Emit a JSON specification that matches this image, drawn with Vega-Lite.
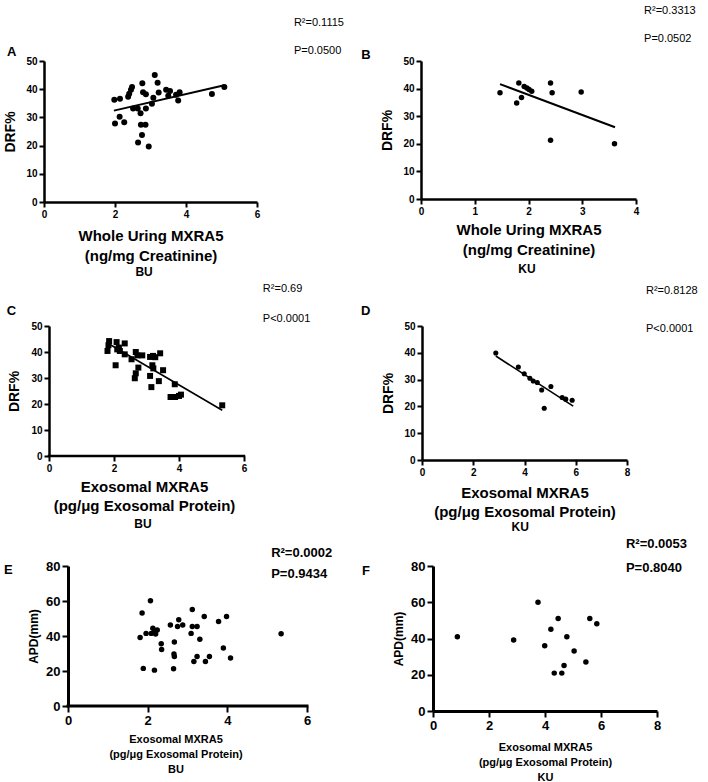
{
  "$schema": "https://vega.github.io/schema/vega-lite/v6.json",
  "padding": {"left": 3, "top": 5, "right": 0, "bottom": 0},
  "columns": 2,
  "align": {"row": "each", "column": "none"},
  "spacing": {"row": 5, "column": 17},
  "config": {
    "view": {"stroke": null},
    "font": "Liberation Sans",
    "axis": {"domainColor": "black", "domainWidth": 2.5, "tickColor": "black", "tickWidth": 2, "tickSize": 5, "labelColor": "black", "labelFontWeight": "bold", "titleColor": "black", "titleFontWeight": "bold", "grid": false, "labelPadding": 2, "labelFlush": false, "labelOverlap": false, "format": "d"},
    "text": {"color": "black", "align": "left", "baseline": "middle"}
  },
  "concat": [
    {
      "width": 213, "height": 141,
      "layer": [
        {"data": {"values": [
          {"x":1.98,"y":36.3},{"x":2.14,"y":36.6},{"x":2.0,"y":27.8},{"x":2.13,"y":30.2},{"x":2.26,"y":28.3},{"x":2.37,"y":37.3},{"x":2.40,"y":38.4},{"x":2.45,"y":39.8},{"x":2.48,"y":40.8},{"x":2.51,"y":33.2},{"x":2.64,"y":33.2},{"x":2.65,"y":21.1},{"x":2.72,"y":31.5},{"x":2.73,"y":27.4},{"x":2.76,"y":23.8},{"x":2.77,"y":42.1},{"x":2.79,"y":38.9},{"x":2.86,"y":27.4},{"x":2.87,"y":38.2},{"x":2.87,"y":33.2},{"x":2.95,"y":19.7},{"x":3.04,"y":34.8},{"x":3.08,"y":37.0},{"x":3.12,"y":45.0},{"x":3.20,"y":42.3},{"x":3.23,"y":38.8},{"x":3.44,"y":39.8},{"x":3.50,"y":37.7},{"x":3.55,"y":39.4},{"x":3.72,"y":38.0},{"x":3.78,"y":36.0},{"x":3.82,"y":38.9},{"x":4.73,"y":38.3},{"x":5.08,"y":40.8}
        ]},
         "mark": {"type": "circle", "size": 36, "color": "black", "opacity": 1},
         "encoding": {
           "x": {"field": "x", "type": "quantitative", "scale": {"domain": [0, 6], "nice": false}, "axis": {"values": [0,2,4,6], "title": ["Whole Uring MXRA5", "(ng/mg Creatinine)"], "titleFontSize": 15, "titleLineHeight": 20, "titlePadding": 9, "labelFontSize": 10}},
           "y": {"field": "y", "type": "quantitative", "scale": {"domain": [0, 50], "nice": false}, "axis": {"values": [0,10,20,30,40,50], "title": "DRF%", "titleFontSize": 14, "titlePadding": 8, "labelFontSize": 10}}
         }},
        {"data": {"values": [{"x":1.97,"y":32.4},{"x":5.08,"y":41.4}]},
         "mark": {"type": "line", "color": "black", "strokeWidth": 2},
         "encoding": {
           "x": {"field": "x", "type": "quantitative", "scale": {"domain": [0, 6], "nice": false}, "axis": {"values": [0,2,4,6], "title": ["Whole Uring MXRA5", "(ng/mg Creatinine)"], "titleFontSize": 15, "titleLineHeight": 20, "titlePadding": 9, "labelFontSize": 10}},
           "y": {"field": "y", "type": "quantitative", "scale": {"domain": [0, 50], "nice": false}, "axis": {"values": [0,10,20,30,40,50], "title": "DRF%", "titleFontSize": 14, "titlePadding": 8, "labelFontSize": 10}}
         }},
        {"data": {"values": [{}]},
         "mark": {"type": "text", "fontSize": 11, "lineHeight": 28, "text": ["R²=0.1115", "P=0.0500"]},
         "encoding": {
           "x": {"datum": 7.04, "type": "quantitative", "scale": {"domain": [0, 6], "nice": false}, "axis": {"values": [0,2,4,6], "title": ["Whole Uring MXRA5", "(ng/mg Creatinine)"], "titleFontSize": 15, "titleLineHeight": 20, "titlePadding": 9, "labelFontSize": 10}},
           "y": {"datum": 63.3, "type": "quantitative", "scale": {"domain": [0, 50], "nice": false}, "axis": {"values": [0,10,20,30,40,50], "title": "DRF%", "titleFontSize": 14, "titlePadding": 8, "labelFontSize": 10}}
         }},
        {"data": {"values": [{}]},
         "mark": {"type": "text", "fontSize": 13, "fontWeight": "bold", "text": "A"},
         "encoding": {
           "x": {"datum": -1.04, "type": "quantitative", "scale": {"domain": [0, 6], "nice": false}, "axis": {"values": [0,2,4,6], "title": ["Whole Uring MXRA5", "(ng/mg Creatinine)"], "titleFontSize": 15, "titleLineHeight": 20, "titlePadding": 9, "labelFontSize": 10}},
           "y": {"datum": 53.2, "type": "quantitative", "scale": {"domain": [0, 50], "nice": false}, "axis": {"values": [0,10,20,30,40,50], "title": "DRF%", "titleFontSize": 14, "titlePadding": 8, "labelFontSize": 10}}
         }},
        {"data": {"values": [{}]},
         "mark": {"type": "text", "fontSize": 12, "fontWeight": "bold", "text": "BU", "align": "center"},
         "encoding": {
           "x": {"datum": 2.82, "type": "quantitative", "scale": {"domain": [0, 6], "nice": false}, "axis": {"values": [0,2,4,6], "title": ["Whole Uring MXRA5", "(ng/mg Creatinine)"], "titleFontSize": 15, "titleLineHeight": 20, "titlePadding": 9, "labelFontSize": 10}},
           "y": {"datum": -24.8, "type": "quantitative", "scale": {"domain": [0, 50], "nice": false}, "axis": {"values": [0,10,20,30,40,50], "title": "DRF%", "titleFontSize": 14, "titlePadding": 8, "labelFontSize": 10}}
         }}
      ]
    },
    {
      "width": 215, "height": 138,
      "layer": [
        {"data": {"values": [
          {"x":1.47,"y":38.5},{"x":1.82,"y":42.0},{"x":1.92,"y":40.8},{"x":1.97,"y":40.2},{"x":2.01,"y":39.7},{"x":2.06,"y":39.0},{"x":1.87,"y":36.8},{"x":1.78,"y":34.8},{"x":2.41,"y":42.0},{"x":2.44,"y":38.5},{"x":2.98,"y":38.8},{"x":2.41,"y":21.3},{"x":3.60,"y":20.0}
        ]},
         "mark": {"type": "circle", "size": 30, "color": "black", "opacity": 1},
         "encoding": {
           "x": {"field": "x", "type": "quantitative", "scale": {"domain": [0, 4], "nice": false}, "axis": {"values": [0,1,2,3,4], "title": ["Whole Uring MXRA5", "(ng/mg Creatinine)"], "titleFontSize": 15, "titleLineHeight": 20, "titlePadding": 6, "labelFontSize": 10}},
           "y": {"field": "y", "type": "quantitative", "scale": {"domain": [0, 50], "nice": false}, "axis": {"values": [0,10,20,30,40,50], "title": "DRF%", "titleFontSize": 14, "titlePadding": 8, "labelFontSize": 10}}
         }},
        {"data": {"values": [{"x":1.47,"y":41.6},{"x":3.61,"y":26.0}]},
         "mark": {"type": "line", "color": "black", "strokeWidth": 2},
         "encoding": {
           "x": {"field": "x", "type": "quantitative", "scale": {"domain": [0, 4], "nice": false}, "axis": {"values": [0,1,2,3,4], "title": ["Whole Uring MXRA5", "(ng/mg Creatinine)"], "titleFontSize": 15, "titleLineHeight": 20, "titlePadding": 6, "labelFontSize": 10}},
           "y": {"field": "y", "type": "quantitative", "scale": {"domain": [0, 50], "nice": false}, "axis": {"values": [0,10,20,30,40,50], "title": "DRF%", "titleFontSize": 14, "titlePadding": 8, "labelFontSize": 10}}
         }},
        {"data": {"values": [{}]},
         "mark": {"type": "text", "fontSize": 11, "lineHeight": 28, "text": ["R²=0.3313", "P=0.0502"]},
         "encoding": {
           "x": {"datum": 4.15, "type": "quantitative", "scale": {"domain": [0, 4], "nice": false}, "axis": {"values": [0,1,2,3,4], "title": ["Whole Uring MXRA5", "(ng/mg Creatinine)"], "titleFontSize": 15, "titleLineHeight": 20, "titlePadding": 6, "labelFontSize": 10}},
           "y": {"datum": 68.1, "type": "quantitative", "scale": {"domain": [0, 50], "nice": false}, "axis": {"values": [0,10,20,30,40,50], "title": "DRF%", "titleFontSize": 14, "titlePadding": 8, "labelFontSize": 10}}
         }},
        {"data": {"values": [{}]},
         "mark": {"type": "text", "fontSize": 13, "fontWeight": "bold", "text": "B"},
         "encoding": {
           "x": {"datum": -1.11, "type": "quantitative", "scale": {"domain": [0, 4], "nice": false}, "axis": {"values": [0,1,2,3,4], "title": ["Whole Uring MXRA5", "(ng/mg Creatinine)"], "titleFontSize": 15, "titleLineHeight": 20, "titlePadding": 6, "labelFontSize": 10}},
           "y": {"datum": 52.2, "type": "quantitative", "scale": {"domain": [0, 50], "nice": false}, "axis": {"values": [0,10,20,30,40,50], "title": "DRF%", "titleFontSize": 14, "titlePadding": 8, "labelFontSize": 10}}
         }},
        {"data": {"values": [{}]},
         "mark": {"type": "text", "fontSize": 12, "fontWeight": "bold", "text": "KU", "align": "center"},
         "encoding": {
           "x": {"datum": 1.97, "type": "quantitative", "scale": {"domain": [0, 4], "nice": false}, "axis": {"values": [0,1,2,3,4], "title": ["Whole Uring MXRA5", "(ng/mg Creatinine)"], "titleFontSize": 15, "titleLineHeight": 20, "titlePadding": 6, "labelFontSize": 10}},
           "y": {"datum": -25.4, "type": "quantitative", "scale": {"domain": [0, 50], "nice": false}, "axis": {"values": [0,10,20,30,40,50], "title": "DRF%", "titleFontSize": 14, "titlePadding": 8, "labelFontSize": 10}}
         }}
      ]
    },
    {
      "width": 200, "height": 130,
      "layer": [
        {"data": {"values": [
          {"x":1.85,"y":44.2},{"x":1.83,"y":42.6},{"x":2.08,"y":43.8},{"x":2.33,"y":43.3},{"x":2.15,"y":41.7},{"x":1.80,"y":40.4},{"x":2.10,"y":41.0},{"x":2.18,"y":40.4},{"x":2.33,"y":39.1},{"x":2.05,"y":34.9},{"x":2.54,"y":37.2},{"x":2.67,"y":40.0},{"x":2.72,"y":38.7},{"x":2.87,"y":38.7},{"x":2.75,"y":34.0},{"x":2.67,"y":31.8},{"x":2.64,"y":29.9},{"x":3.11,"y":38.1},{"x":3.20,"y":38.5},{"x":3.27,"y":38.0},{"x":3.42,"y":39.5},{"x":3.18,"y":34.9},{"x":3.21,"y":33.7},{"x":3.11,"y":30.8},{"x":3.51,"y":33.0},{"x":3.38,"y":28.8},{"x":3.15,"y":26.5},{"x":3.87,"y":27.6},{"x":3.74,"y":22.7},{"x":3.88,"y":22.7},{"x":4.00,"y":23.1},{"x":4.06,"y":23.6},{"x":5.33,"y":19.5}
        ]},
         "mark": {"type": "square", "size": 36, "color": "black", "opacity": 1},
         "encoding": {
           "x": {"field": "x", "type": "quantitative", "scale": {"domain": [-0.1538, 6], "nice": false}, "axis": {"values": [0,2,4,6], "domain": false, "title": ["Exosomal MXRA5", "(pg/μg Exosomal Protein)"], "titleFontSize": 15, "titleLineHeight": 19, "titlePadding": 6, "labelFontSize": 10}},
           "y": {"field": "y", "type": "quantitative", "scale": {"domain": [0, 50], "nice": false}, "axis": {"values": [0,10,20,30,40,50], "offset": -5, "title": "DRF%", "titleFontSize": 14, "titlePadding": 9, "labelFontSize": 10}}
         }},
        {"data": {"values": [{}]},
         "mark": {"type": "rule", "color": "black", "strokeWidth": 2.5, "strokeCap": "square"},
         "encoding": {
           "x": {"datum": 0, "type": "quantitative", "scale": {"domain": [-0.1538, 6], "nice": false}, "axis": {"values": [0,2,4,6], "domain": false, "title": ["Exosomal MXRA5", "(pg/μg Exosomal Protein)"], "titleFontSize": 15, "titleLineHeight": 19, "titlePadding": 6, "labelFontSize": 10}},
           "x2": {"datum": 6},
           "y": {"datum": 0, "type": "quantitative", "scale": {"domain": [0, 50], "nice": false}, "axis": {"values": [0,10,20,30,40,50], "offset": -5, "title": "DRF%", "titleFontSize": 14, "titlePadding": 9, "labelFontSize": 10}}
         }},
        {"data": {"values": [{"x":1.85,"y":43.1},{"x":5.33,"y":17.6}]},
         "mark": {"type": "line", "color": "black", "strokeWidth": 1.6},
         "encoding": {
           "x": {"field": "x", "type": "quantitative", "scale": {"domain": [-0.1538, 6], "nice": false}, "axis": {"values": [0,2,4,6], "domain": false, "title": ["Exosomal MXRA5", "(pg/μg Exosomal Protein)"], "titleFontSize": 15, "titleLineHeight": 19, "titlePadding": 6, "labelFontSize": 10}},
           "y": {"field": "y", "type": "quantitative", "scale": {"domain": [0, 50], "nice": false}, "axis": {"values": [0,10,20,30,40,50], "offset": -5, "title": "DRF%", "titleFontSize": 14, "titlePadding": 9, "labelFontSize": 10}}
         }},
        {"data": {"values": [{}]},
         "mark": {"type": "text", "fontSize": 11, "lineHeight": 30, "text": ["R²=0.69", "P<0.0001"]},
         "encoding": {
           "x": {"datum": 6.58, "type": "quantitative", "scale": {"domain": [-0.1538, 6], "nice": false}, "axis": {"values": [0,2,4,6], "domain": false, "title": ["Exosomal MXRA5", "(pg/μg Exosomal Protein)"], "titleFontSize": 15, "titleLineHeight": 19, "titlePadding": 6, "labelFontSize": 10}},
           "y": {"datum": 64.2, "type": "quantitative", "scale": {"domain": [0, 50], "nice": false}, "axis": {"values": [0,10,20,30,40,50], "offset": -5, "title": "DRF%", "titleFontSize": 14, "titlePadding": 9, "labelFontSize": 10}}
         }},
        {"data": {"values": [{}]},
         "mark": {"type": "text", "fontSize": 13, "fontWeight": "bold", "text": "C"},
         "encoding": {
           "x": {"datum": -1.3, "type": "quantitative", "scale": {"domain": [-0.1538, 6], "nice": false}, "axis": {"values": [0,2,4,6], "domain": false, "title": ["Exosomal MXRA5", "(pg/μg Exosomal Protein)"], "titleFontSize": 15, "titleLineHeight": 19, "titlePadding": 6, "labelFontSize": 10}},
           "y": {"datum": 55.8, "type": "quantitative", "scale": {"domain": [0, 50], "nice": false}, "axis": {"values": [0,10,20,30,40,50], "offset": -5, "title": "DRF%", "titleFontSize": 14, "titlePadding": 9, "labelFontSize": 10}}
         }},
        {"data": {"values": [{}]},
         "mark": {"type": "text", "fontSize": 12, "fontWeight": "bold", "text": "BU", "align": "center"},
         "encoding": {
           "x": {"datum": 2.89, "type": "quantitative", "scale": {"domain": [-0.1538, 6], "nice": false}, "axis": {"values": [0,2,4,6], "domain": false, "title": ["Exosomal MXRA5", "(pg/μg Exosomal Protein)"], "titleFontSize": 15, "titleLineHeight": 19, "titlePadding": 6, "labelFontSize": 10}},
           "y": {"datum": -26.2, "type": "quantitative", "scale": {"domain": [0, 50], "nice": false}, "axis": {"values": [0,10,20,30,40,50], "offset": -5, "title": "DRF%", "titleFontSize": 14, "titlePadding": 9, "labelFontSize": 10}}
         }}
      ]
    },
    {
      "width": 205, "height": 134,
      "layer": [
        {"data": {"values": [
          {"x":2.88,"y":39.9},{"x":3.76,"y":34.7},{"x":3.99,"y":32.2},{"x":4.21,"y":30.5},{"x":4.34,"y":29.5},{"x":4.50,"y":28.9},{"x":4.67,"y":26.1},{"x":5.03,"y":27.4},{"x":4.77,"y":19.3},{"x":5.47,"y":23.3},{"x":5.61,"y":22.7},{"x":5.86,"y":22.3}
        ]},
         "mark": {"type": "circle", "size": 26, "color": "black", "opacity": 1},
         "encoding": {
           "x": {"field": "x", "type": "quantitative", "scale": {"domain": [0, 8], "nice": false}, "axis": {"values": [0,2,4,6,8], "title": ["Exosomal MXRA5", "(pg/μg Exosomal Protein)"], "titleFontSize": 15, "titleLineHeight": 19, "titlePadding": 8, "labelFontSize": 10}},
           "y": {"field": "y", "type": "quantitative", "scale": {"domain": [0, 50], "nice": false}, "axis": {"values": [0,10,20,30,40,50], "title": "DRF%", "titleFontSize": 14, "titlePadding": 8, "labelFontSize": 10}}
         }},
        {"data": {"values": [{"x":2.88,"y":38.8},{"x":5.90,"y":20.1}]},
         "mark": {"type": "line", "color": "black", "strokeWidth": 1.6},
         "encoding": {
           "x": {"field": "x", "type": "quantitative", "scale": {"domain": [0, 8], "nice": false}, "axis": {"values": [0,2,4,6,8], "title": ["Exosomal MXRA5", "(pg/μg Exosomal Protein)"], "titleFontSize": 15, "titleLineHeight": 19, "titlePadding": 8, "labelFontSize": 10}},
           "y": {"field": "y", "type": "quantitative", "scale": {"domain": [0, 50], "nice": false}, "axis": {"values": [0,10,20,30,40,50], "title": "DRF%", "titleFontSize": 14, "titlePadding": 8, "labelFontSize": 10}}
         }},
        {"data": {"values": [{}]},
         "mark": {"type": "text", "fontSize": 11, "lineHeight": 38, "text": ["R²=0.8128", "P<0.0001"]},
         "encoding": {
           "x": {"datum": 8.74, "type": "quantitative", "scale": {"domain": [0, 8], "nice": false}, "axis": {"values": [0,2,4,6,8], "title": ["Exosomal MXRA5", "(pg/μg Exosomal Protein)"], "titleFontSize": 15, "titleLineHeight": 19, "titlePadding": 8, "labelFontSize": 10}},
           "y": {"datum": 63.2, "type": "quantitative", "scale": {"domain": [0, 50], "nice": false}, "axis": {"values": [0,10,20,30,40,50], "title": "DRF%", "titleFontSize": 14, "titlePadding": 8, "labelFontSize": 10}}
         }},
        {"data": {"values": [{}]},
         "mark": {"type": "text", "fontSize": 13, "fontWeight": "bold", "text": "D"},
         "encoding": {
           "x": {"datum": -2.38, "type": "quantitative", "scale": {"domain": [0, 8], "nice": false}, "axis": {"values": [0,2,4,6,8], "title": ["Exosomal MXRA5", "(pg/μg Exosomal Protein)"], "titleFontSize": 15, "titleLineHeight": 19, "titlePadding": 8, "labelFontSize": 10}},
           "y": {"datum": 55.7, "type": "quantitative", "scale": {"domain": [0, 50], "nice": false}, "axis": {"values": [0,10,20,30,40,50], "title": "DRF%", "titleFontSize": 14, "titlePadding": 8, "labelFontSize": 10}}
         }},
        {"data": {"values": [{}]},
         "mark": {"type": "text", "fontSize": 12, "fontWeight": "bold", "text": "KU", "align": "center"},
         "encoding": {
           "x": {"datum": 3.83, "type": "quantitative", "scale": {"domain": [0, 8], "nice": false}, "axis": {"values": [0,2,4,6,8], "title": ["Exosomal MXRA5", "(pg/μg Exosomal Protein)"], "titleFontSize": 15, "titleLineHeight": 19, "titlePadding": 8, "labelFontSize": 10}},
           "y": {"datum": -25, "type": "quantitative", "scale": {"domain": [0, 50], "nice": false}, "axis": {"values": [0,10,20,30,40,50], "title": "DRF%", "titleFontSize": 14, "titlePadding": 8, "labelFontSize": 10}}
         }}
      ]
    },
    {
      "width": 263, "height": 140,
      "layer": [
        {"data": {"values": [
          {"x":1.86,"y":53.2},{"x":2.07,"y":60.2},{"x":1.81,"y":39.1},{"x":1.96,"y":41.5},{"x":2.09,"y":41.5},{"x":2.13,"y":44.4},{"x":2.17,"y":42.8},{"x":2.24,"y":43.4},{"x":2.20,"y":41.1},{"x":2.34,"y":35.6},{"x":2.35,"y":32.3},{"x":1.89,"y":21.5},{"x":2.17,"y":20.5},{"x":2.57,"y":46.3},{"x":2.78,"y":49.3},{"x":2.75,"y":45.4},{"x":2.88,"y":46.3},{"x":2.67,"y":36.6},{"x":2.66,"y":29.7},{"x":2.67,"y":28.3},{"x":2.65,"y":21.3},{"x":3.12,"y":55.2},{"x":3.12,"y":45.4},{"x":3.24,"y":45.4},{"x":3.09,"y":41.5},{"x":3.31,"y":38.1},{"x":3.42,"y":51.2},{"x":3.24,"y":28.3},{"x":3.16,"y":25.4},{"x":3.55,"y":28.3},{"x":3.45,"y":25.4},{"x":3.78,"y":48.3},{"x":3.98,"y":51.2},{"x":3.90,"y":33.2},{"x":4.08,"y":27.4},{"x":5.35,"y":41.3}
        ]},
         "mark": {"type": "circle", "size": 30, "color": "black", "opacity": 1},
         "encoding": {
           "x": {"field": "x", "type": "quantitative", "scale": {"domain": [-0.603, 6], "nice": false}, "axis": {"values": [0,2,4,6], "domain": false, "title": ["Exosomal MXRA5", "(pg/μg Exosomal Protein)", "BU"], "titleFontSize": 11, "titleLineHeight": 15, "titlePadding": 6, "labelFontSize": 13, "tickSize": 6}},
           "y": {"field": "y", "type": "quantitative", "scale": {"domain": [0, 80], "nice": false}, "axis": {"values": [0,20,40,60,80], "offset": -24, "title": "APD(mm)", "titleFontSize": 12, "titlePadding": 5, "labelFontSize": 13, "domainWidth": 3, "tickSize": 6}}
         }},
        {"data": {"values": [{}]},
         "mark": {"type": "rule", "color": "black", "strokeWidth": 3, "strokeCap": "square"},
         "encoding": {
           "x": {"datum": 0, "type": "quantitative", "scale": {"domain": [-0.603, 6], "nice": false}, "axis": {"values": [0,2,4,6], "domain": false, "title": ["Exosomal MXRA5", "(pg/μg Exosomal Protein)", "BU"], "titleFontSize": 11, "titleLineHeight": 15, "titlePadding": 6, "labelFontSize": 13, "tickSize": 6}},
           "x2": {"datum": 6},
           "y": {"datum": 0, "type": "quantitative", "scale": {"domain": [0, 80], "nice": false}, "axis": {"values": [0,20,40,60,80], "offset": -24, "title": "APD(mm)", "titleFontSize": 12, "titlePadding": 5, "labelFontSize": 13, "domainWidth": 3, "tickSize": 6}}
         }},
        {"data": {"values": [{}]},
         "mark": {"type": "text", "fontSize": 13, "fontWeight": "bold", "lineHeight": 21.6, "text": ["R²=0.0002", "P=0.9434"]},
         "encoding": {
           "x": {"datum": 5.1, "type": "quantitative", "scale": {"domain": [-0.603, 6], "nice": false}, "axis": {"values": [0,2,4,6], "domain": false, "title": ["Exosomal MXRA5", "(pg/μg Exosomal Protein)", "BU"], "titleFontSize": 11, "titleLineHeight": 15, "titlePadding": 6, "labelFontSize": 13, "tickSize": 6}},
           "y": {"datum": 87.6, "type": "quantitative", "scale": {"domain": [0, 80], "nice": false}, "axis": {"values": [0,20,40,60,80], "offset": -24, "title": "APD(mm)", "titleFontSize": 12, "titlePadding": 5, "labelFontSize": 13, "domainWidth": 3, "tickSize": 6}}
         }},
        {"data": {"values": [{}]},
         "mark": {"type": "text", "fontSize": 13, "fontWeight": "bold", "text": "E"},
         "encoding": {
           "x": {"datum": -1.61, "type": "quantitative", "scale": {"domain": [-0.603, 6], "nice": false}, "axis": {"values": [0,2,4,6], "domain": false, "title": ["Exosomal MXRA5", "(pg/μg Exosomal Protein)", "BU"], "titleFontSize": 11, "titleLineHeight": 15, "titlePadding": 6, "labelFontSize": 13, "tickSize": 6}},
           "y": {"datum": 77.7, "type": "quantitative", "scale": {"domain": [0, 80], "nice": false}, "axis": {"values": [0,20,40,60,80], "offset": -24, "title": "APD(mm)", "titleFontSize": 12, "titlePadding": 5, "labelFontSize": 13, "domainWidth": 3, "tickSize": 6}}
         }}
      ]
    },
    {
      "width": 224, "height": 145,
      "layer": [
        {"data": {"values": [
          {"x":0.87,"y":41.0},{"x":2.88,"y":39.2},{"x":3.75,"y":60.0},{"x":3.99,"y":36.0},{"x":4.21,"y":45.1},{"x":4.47,"y":51.0},{"x":4.33,"y":20.9},{"x":4.60,"y":20.9},{"x":4.68,"y":25.1},{"x":4.78,"y":41.0},{"x":5.04,"y":33.1},{"x":5.46,"y":27.0},{"x":5.60,"y":51.0},{"x":5.85,"y":48.1}
        ]},
         "mark": {"type": "circle", "size": 30, "color": "black", "opacity": 1},
         "encoding": {
           "x": {"field": "x", "type": "quantitative", "scale": {"domain": [0, 8], "nice": false}, "axis": {"values": [0,2,4,6,8], "title": ["Exosomal MXRA5", "(pg/μg Exosomal Protein)", "KU"], "titleFontSize": 11, "titleLineHeight": 15, "titlePadding": 9, "labelFontSize": 13, "domainWidth": 3, "tickSize": 6}},
           "y": {"field": "y", "type": "quantitative", "scale": {"domain": [0, 80], "nice": false}, "axis": {"values": [0,20,40,60,80], "title": "APD(mm)", "titleFontSize": 12, "titlePadding": 5, "labelFontSize": 13, "domainWidth": 3, "tickSize": 6}}
         }},
        {"data": {"values": [{}]},
         "mark": {"type": "text", "fontSize": 13, "fontWeight": "bold", "lineHeight": 23.4, "text": ["R²=0.0053", "P=0.8040"]},
         "encoding": {
           "x": {"datum": 6.89, "type": "quantitative", "scale": {"domain": [0, 8], "nice": false}, "axis": {"values": [0,2,4,6,8], "title": ["Exosomal MXRA5", "(pg/μg Exosomal Protein)", "KU"], "titleFontSize": 11, "titleLineHeight": 15, "titlePadding": 9, "labelFontSize": 13, "domainWidth": 3, "tickSize": 6}},
           "y": {"datum": 92.0, "type": "quantitative", "scale": {"domain": [0, 80], "nice": false}, "axis": {"values": [0,20,40,60,80], "title": "APD(mm)", "titleFontSize": 12, "titlePadding": 5, "labelFontSize": 13, "domainWidth": 3, "tickSize": 6}}
         }},
        {"data": {"values": [{}]},
         "mark": {"type": "text", "fontSize": 13, "fontWeight": "bold", "text": "F"},
         "encoding": {
           "x": {"datum": -2.54, "type": "quantitative", "scale": {"domain": [0, 8], "nice": false}, "axis": {"values": [0,2,4,6,8], "title": ["Exosomal MXRA5", "(pg/μg Exosomal Protein)", "KU"], "titleFontSize": 11, "titleLineHeight": 15, "titlePadding": 9, "labelFontSize": 13, "domainWidth": 3, "tickSize": 6}},
           "y": {"datum": 77.2, "type": "quantitative", "scale": {"domain": [0, 80], "nice": false}, "axis": {"values": [0,20,40,60,80], "title": "APD(mm)", "titleFontSize": 12, "titlePadding": 5, "labelFontSize": 13, "domainWidth": 3, "tickSize": 6}}
         }}
      ]
    }
  ]
}
